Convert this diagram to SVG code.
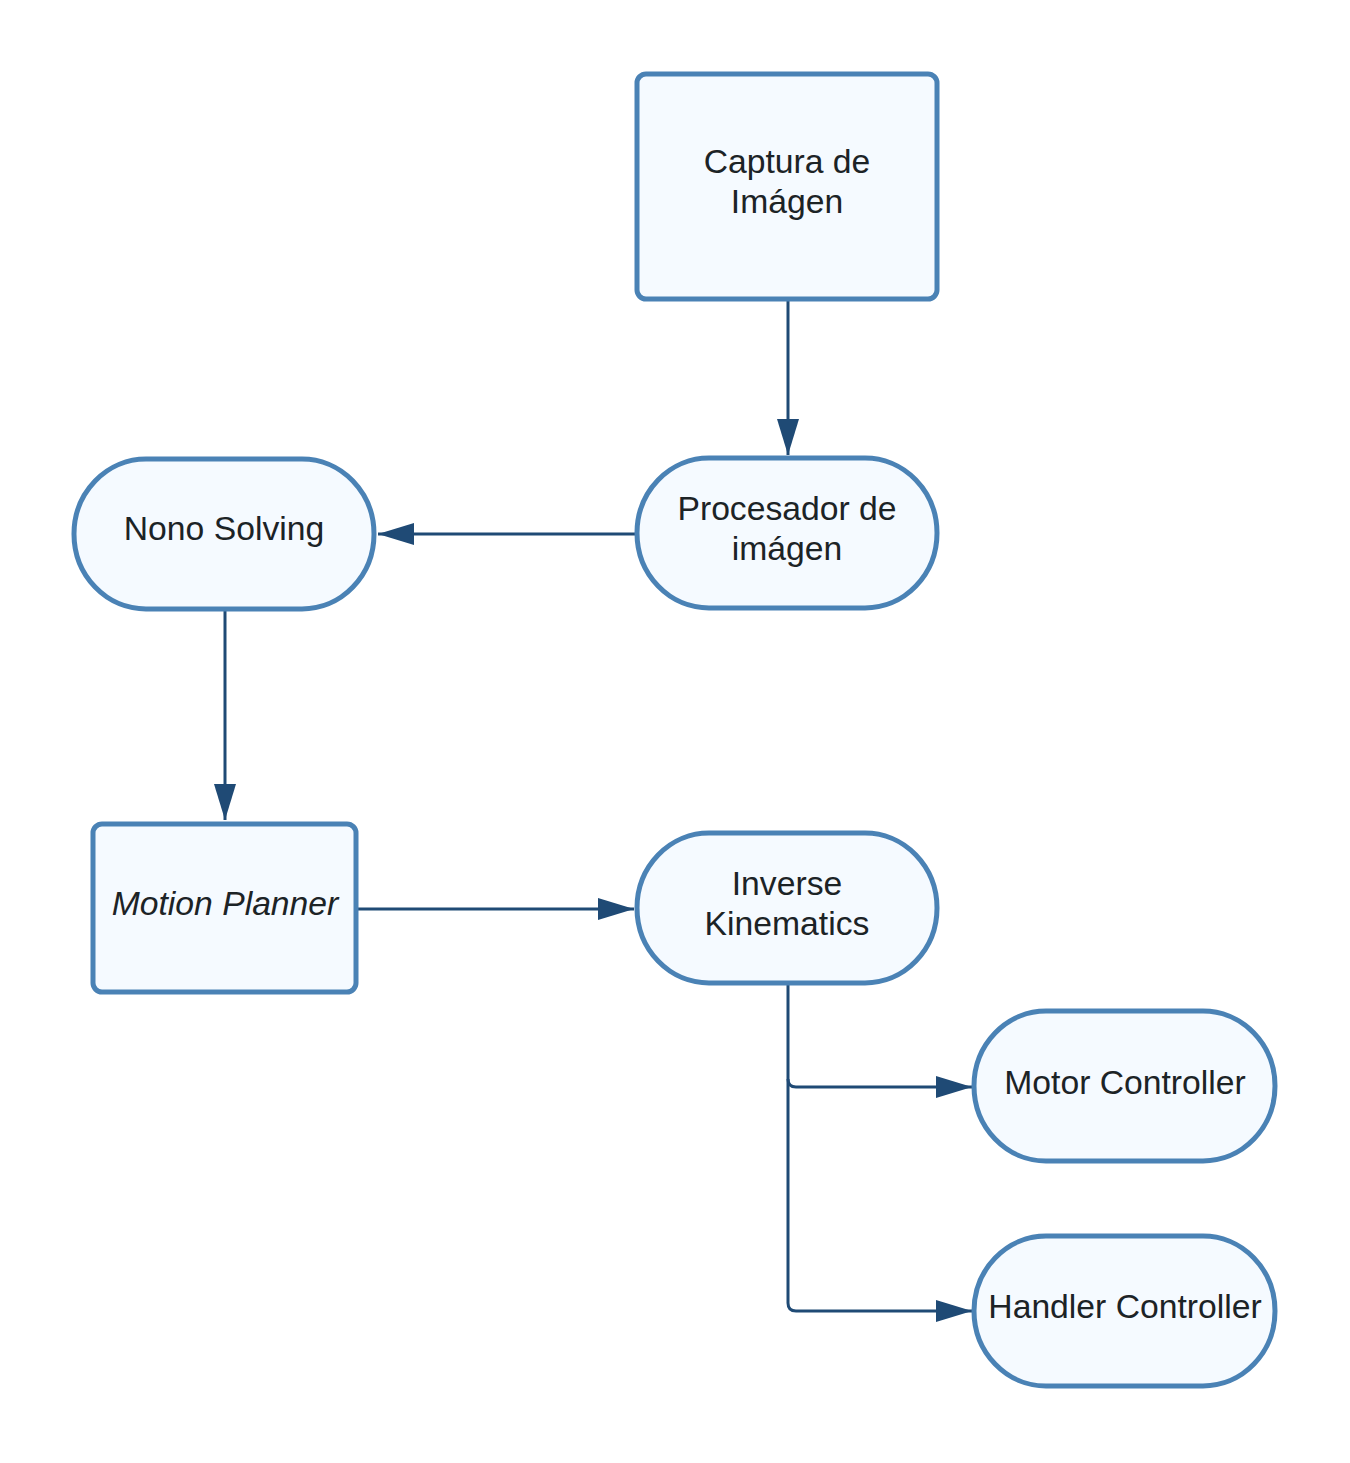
<svg xmlns="http://www.w3.org/2000/svg" width="1350" height="1463" viewBox="0 0 1350 1463">
<defs>
<style>
.n{fill:#f5faff;stroke:#4a82b5;stroke-width:5}
.t{font-family:"Liberation Sans",Arial,sans-serif;font-size:33.7px;fill:#1c2326;text-anchor:middle}
.c{fill:none;stroke:#1f4a75;stroke-width:3}
</style>
<marker id="a" viewBox="0 0 36 22" refX="36" refY="11" markerWidth="36" markerHeight="22" markerUnits="userSpaceOnUse" orient="auto">
<path d="M0,0 L36,11 L0,22 Z" fill="#1f4a75"/>
</marker>
</defs>
<rect width="1350" height="1463" fill="#ffffff"/>
<g id="connectors">
<path class="c" d="M788,299 V455" marker-end="url(#a)"/>
<path class="c" d="M636,534 H378" marker-end="url(#a)"/>
<path class="c" d="M225,609 V820" marker-end="url(#a)"/>
<path class="c" d="M357,909 H634" marker-end="url(#a)"/>
<path class="c" d="M788,983 V1079 Q788,1087 796,1087 H972" marker-end="url(#a)"/>
<path class="c" d="M788,1079 V1303 Q788,1311 796,1311 H972" marker-end="url(#a)"/>
</g>
<g id="captura">
<rect class="n" x="637" y="74" width="300" height="225" rx="9"/>
<text class="t" x="787" y="173">Captura de</text>
<text class="t" x="787" y="213">Imágen</text>
</g>
<g id="procesador">
<rect class="n" x="637" y="458" width="300" height="150" rx="72" ry="75"/>
<text class="t" x="787" y="520">Procesador de</text>
<text class="t" x="787" y="560">imágen</text>
</g>
<g id="nono">
<rect class="n" x="74" y="459" width="300" height="150" rx="72" ry="75"/>
<text class="t" x="224" y="540">Nono Solving</text>
</g>
<g id="motion">
<rect class="n" x="93" y="824" width="263" height="168" rx="9"/>
<text class="t" x="225" y="915" font-style="italic">Motion Planner</text>
</g>
<g id="inverse">
<rect class="n" x="637" y="833" width="300" height="150" rx="72" ry="75"/>
<text class="t" x="787" y="895">Inverse</text>
<text class="t" x="787" y="935">Kinematics</text>
</g>
<g id="motor">
<rect class="n" x="974" y="1011" width="301" height="150" rx="72" ry="75"/>
<text class="t" x="1125" y="1094">Motor Controller</text>
</g>
<g id="handler">
<rect class="n" x="974" y="1236" width="301" height="150" rx="72" ry="75"/>
<text class="t" x="1125" y="1318">Handler Controller</text>
</g>
</svg>
